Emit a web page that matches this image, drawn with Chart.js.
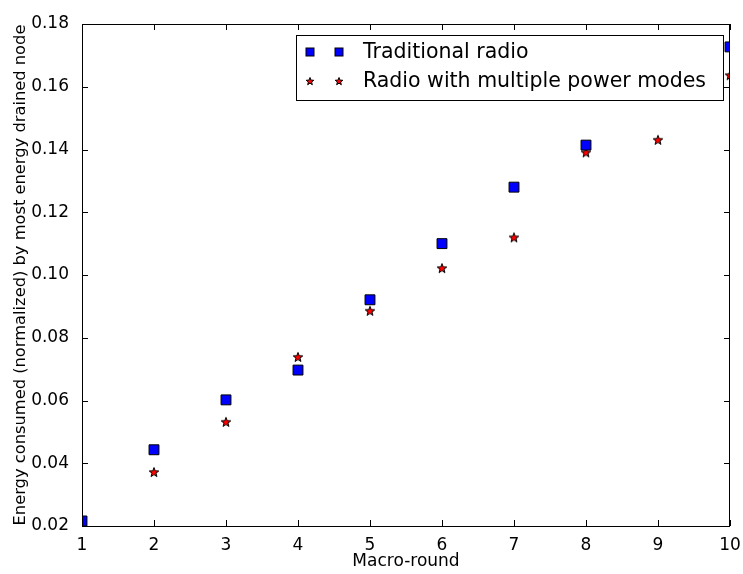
<!DOCTYPE html>
<html>
<head>
<meta charset="utf-8">
<script src="https://cdn.jsdelivr.net/npm/chart.js@4/dist/chart.umd.min.js"></script>
<style>
  html, body { margin: 0; padding: 0; background: #fff; }
  #wrap { width: 743px; height: 574px; }
</style>
</head>
<body>
<div id="wrap"><canvas id="grafico" width="743" height="574"></canvas></div>
<script>
// datos
const rondas = [1, 2, 3, 4, 5, 6, 7, 8, 9, 10];
const radioTradicional = [0.0216, 0.0443, 0.0602, 0.0697, 0.0921, 0.1100, 0.1280, 0.1414, null, 0.1727];
const radioMultiModo = [0.0222, 0.0372, 0.0532, 0.0739, 0.0886, 0.1022, 0.1120, 0.1391, 0.1431, 0.1637];
const etiquetasSeries = ['Traditional radio', 'Radio with multiple power modes'];
const ticksY = [0.02, 0.04, 0.06, 0.08, 0.10, 0.12, 0.14, 0.16, 0.18];

const FUENTE = 'DejaVu Sans';

// estrella rellena de 5 puntas (matplotlib '*')
function hacerEstrella(r) {
    const c = document.createElement('canvas');
    const s = Math.ceil(r * 2 + 4);
    c.width = s; c.height = s;
    const g = c.getContext('2d');
    const cx = s / 2, cy = s / 2 + 0.5;
    g.beginPath();
    for (let i = 0; i < 10; i++) {
        const rad = i % 2 === 0 ? r : r * 0.42;
        const a = -Math.PI / 2 + i * Math.PI / 5;
        const px = cx + rad * Math.cos(a), py = cy + rad * Math.sin(a);
        if (i === 0) g.moveTo(px, py); else g.lineTo(px, py);
    }
    g.closePath();
    g.fillStyle = '#ff0000';
    g.fill();
    g.lineWidth = 1;
    g.strokeStyle = '#000';
    g.stroke();
    return c;
}
const estrella = hacerEstrella(5);

// marco, ticks hacia dentro y leyenda al estilo matplotlib
const estiloMpl = {
    id: 'estiloMpl',
    afterDraw(chart) {
        const { ctx, chartArea: a, scales } = chart;
        ctx.save();
        ctx.strokeStyle = '#000';
        ctx.lineWidth = 1;
        ctx.strokeRect(Math.round(a.left) + 0.5, Math.round(a.top) + 0.5, Math.round(a.right - a.left) - 1, Math.round(a.bottom - a.top));
        const largo = 6;
        ctx.beginPath();
        scales.x.ticks.forEach(t => {
            const x = Math.round(scales.x.getPixelForValue(t.value)) + 0.5;
            ctx.moveTo(x, a.bottom); ctx.lineTo(x, a.bottom - largo);
            ctx.moveTo(x, a.top); ctx.lineTo(x, a.top + largo);
        });
        scales.y.ticks.forEach(t => {
            const y = Math.round(scales.y.getPixelForValue(t.value)) + 0.5;
            ctx.moveTo(a.left, y); ctx.lineTo(a.left + largo, y);
            ctx.moveTo(a.right, y); ctx.lineTo(a.right - largo, y);
        });
        ctx.stroke();

        // leyenda
        const lx = 296, ly = 35, lw = 427, lh = 65;
        ctx.fillStyle = '#fff';
        ctx.fillRect(lx, ly, lw, lh);
        ctx.strokeRect(lx + 0.5, ly + 0.5, lw, lh);
        const filas = [ly + 17, ly + 46];
        const ds = chart.data.datasets;
        filas.forEach((fy, i) => {
            [310, 339].forEach(mx => {
                if (i === 0) {
                    ctx.fillStyle = ds[0].backgroundColor;
                    ctx.fillRect(mx - 4, fy - 4, 8, 8);
                    ctx.strokeRect(mx - 4, fy - 4, 8, 8);
                } else {
                    const e = hacerEstrella(4);
                    ctx.drawImage(e, mx - e.width / 2, fy - e.height / 2);
                }
            });
            ctx.fillStyle = '#000';
            ctx.font = '20.5px "' + FUENTE + '"';
            ctx.textBaseline = 'middle';
            ctx.textAlign = 'left';
            ctx.fillText(ds[i].label, 363, fy + 1);
        });
        ctx.restore();
    }
};

new Chart(document.getElementById('grafico'), {
    type: 'scatter',
    data: {
        datasets: [{
            label: etiquetasSeries[0],
            data: rondas.map((r, i) => ({ x: r, y: radioTradicional[i] })),
            pointStyle: 'rect',
            pointRadius: 7,
            pointHoverRadius: 7,
            backgroundColor: '#0000ff',
            borderColor: '#000',
            borderWidth: 1,
            clip: 0
        }, {
            label: etiquetasSeries[1],
            data: rondas.map((r, i) => ({ x: r, y: radioMultiModo[i] })),
            pointStyle: estrella,
            backgroundColor: '#ff0000',
            borderColor: '#000',
            clip: 0
        }]
    },
    options: {
        responsive: false,
        animation: false,
        layout: { padding: { top: 24, right: 13, left: 0, bottom: 0 } },
        plugins: { legend: { display: false }, tooltip: { enabled: false } },
        scales: {
            x: {
                type: 'linear',
                min: 1, max: 10,
                grid: { display: false },
                border: { display: false },
                ticks: { stepSize: 1, color: '#000', font: { family: FUENTE, size: 17 }, padding: 1 },
                title: { display: true, text: 'Macro-round', color: '#000', font: { family: FUENTE, size: 17 }, padding: { top: 0, bottom: 2 } },
                afterFit(s) { s.height = 48; }
            },
            y: {
                min: 0.02, max: 0.18,
                grid: { display: false },
                border: { display: false },
                afterBuildTicks(s) { s.ticks = ticksY.map(v => ({ value: v })); },
                ticks: { color: '#000', font: { family: FUENTE, size: 17 }, padding: 5, callback: v => v.toFixed(2) },
                title: { display: true, text: 'Energy consumed (normalized) by most energy drained node', color: '#000', font: { family: FUENTE, size: 16.3 }, padding: { top: 11, bottom: 0 } },
                afterFit(s) { s.width = 82; }
            }
        }
    },
    plugins: [estiloMpl]
});
</script>
</body>
</html>
